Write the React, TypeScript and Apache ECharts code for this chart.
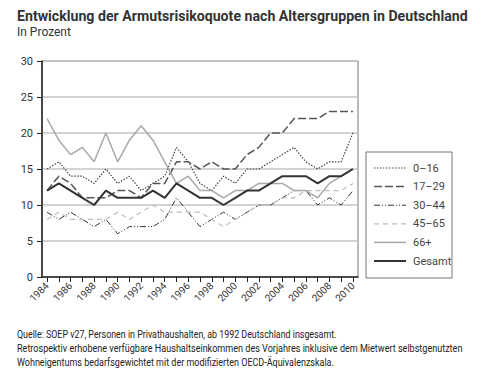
import React, { useEffect, useRef } from "react";
import * as echarts from "echarts";

const years = [1984, 1985, 1986, 1987, 1988, 1989, 1990, 1991, 1992, 1993, 1994, 1995, 1996, 1997, 1998, 1999, 2000, 2001, 2002, 2003, 2004, 2005, 2006, 2007, 2008, 2009, 2010];
const yearLabels = [1984, 1986, 1988, 1990, 1992, 1994, 1996, 1998, 2000, 2002, 2004, 2006, 2008, 2010];

const v0_16 = [15, 16, 14, 14, 13, 15, 13, 14, 12, 13, 14, 18, 16, 13, 12, 14, 13, 15, 15, 16, 17, 18, 16, 15, 16, 16, 20];
const v17_29 = [12, 14, 13, 11, 11, 11, 12, 12, 11, 13, 13, 16, 16, 15, 16, 15, 15, 17, 18, 20, 20, 22, 22, 22, 23, 23, 23];
const v30_44 = [9, 8, 9, 8, 7, 8, 6, 7, 7, 7, 8, 11, 9, 7, 8, 9, 8, 9, 10, 10, 11, 12, 12, 10, 11, 10, 12];
const v45_65 = [8, 9, 8, 8, 8, 8, 9, 8, 9, 10, 9, 9, 9, 9, 8, 7, 8, 9, 10, 10, 11, 11, 12, 12, 12, 12, 13];
const v66 = [22, 19, 17, 18, 16, 20, 16, 19, 21, 19, 16, 13, 14, 12, 12, 11, 12, 12, 13, 13, 13, 12, 12, 11, 13, 14, 15];
const vGesamt = [12, 13, 12, 11, 10, 12, 11, 11, 11, 12, 11, 13, 12, 11, 11, 10, 11, 12, 12, 13, 14, 14, 14, 13, 14, 14, 15];

const seriesNames = ["0–16", "17–29", "30–44", "45–65", "66+", "Gesamt"];

const titleText = "Entwicklung der Armutsrisikoquote nach Altersgruppen in Deutschland";
const subtitleText = "In Prozent";
const footerLines = [
  "Quelle: SOEP v27, Personen in Privathaushalten, ab 1992 Deutschland insgesamt.",
  "Retrospektiv erhobene verfügbare Haushaltseinkommen des Vorjahres inklusive dem Mietwert selbstgenutzten",
  "Wohneigentums bedarfsgewichtet mit der modifizierten OECD-Äquivalenzskala.",
];

const FONT = "Roboto, sans-serif";

function measure(text: string, size: number, weight: string): number {
  const c = document.createElement("canvas").getContext("2d");
  if (!c) return 1;
  c.font = `${weight} ${size}px Roboto`;
  return c.measureText(text).width || 1;
}

export default function App() {
  const ref = useRef<HTMLDivElement>(null);
  useEffect(() => {
    if (!ref.current) return;
    const chart = echarts.init(ref.current, null, { renderer: "svg" });
    const pair = (arr: number[]) => years.map((y, i) => [y, arr[i]]);
    const styles = [
      { color: "#444", width: 1.2, type: [1.5, 1.5] },
      { color: "#555", width: 1.5, type: [8, 3] },
      { color: "#333", width: 1, type: [6, 2, 1, 2, 1, 2] },
      { color: "#bdbdbd", width: 1.2, type: [5, 4] },
      { color: "#a8a8a8", width: 1.5, type: "solid" },
      { color: "#333", width: 2, type: "solid" },
    ];
    const datasets = [v0_16, v17_29, v30_44, v45_65, v66, vGesamt];

    const scaledText = (text: string, x: number, y: number, size: number, weight: string, target: number, fill: string) => ({
      type: "text",
      x,
      y,
      scaleX: Math.min(1, target / measure(text, size, weight)),
      style: { text, x: 0, y: 0, fontSize: size, fontWeight: weight, fill, fontFamily: FONT, verticalAlign: "middle", align: "left" },
      silent: true,
    });

    const footerTargets = [320, 446, 317];

    chart.setOption({
      animation: false,
      textStyle: { fontFamily: FONT },
      grid: {
        left: 42, top: 61, right: 142, bottom: 95,
        show: true, borderColor: "#777", borderWidth: 1,
      },
      xAxis: {
        type: "value",
        min: 1983.57,
        max: 2010.43,
        axisLine: { show: true, lineStyle: { color: "#222", width: 1.5 } },
        axisTick: { show: true, length: 5, customValues: years, lineStyle: { color: "#222" } },
        axisLabel: {
          customValues: yearLabels,
          rotate: 45,
          margin: 7,
          fontSize: 10,
          color: "#333",
          fontFamily: FONT,
          formatter: (v: number) => String(v),
        },
        splitLine: { show: false },
      },
      yAxis: {
        type: "value",
        min: 0,
        max: 30,
        interval: 5,
        axisLine: { show: true, lineStyle: { color: "#222", width: 1.5 } },
        axisTick: { show: true, length: 5, lineStyle: { color: "#222" } },
        axisLabel: { margin: 9, fontSize: 11, color: "#333", fontFamily: FONT },
        splitLine: { show: true, lineStyle: { color: "#c4c4c4", width: 1.5 } },
      },
      series: seriesNames.map((name, i) => ({
        name,
        type: "line",
        data: pair(datasets[i]),
        symbol: "none",
        showSymbol: false,
        lineStyle: styles[i],
        itemStyle: { color: styles[i].color },
        z: i === 5 ? 5 : 3,
      })),
      graphic: [
        scaledText(titleText, 17, 16, 15, "bold", 451, "#333"),
        scaledText(subtitleText, 17, 32, 12, "normal", 56, "#333"),
        { type: "rect", shape: { x: 366, y: 152, width: 86, height: 126 }, style: { fill: "none", stroke: "#777", lineWidth: 1 }, silent: true },
        ...seriesNames.flatMap((name, i) => {
          const cy = 168 + i * 18.6;
          return [
            {
              type: "line",
              shape: { x1: 374, y1: cy, x2: 406, y2: cy },
              style: { stroke: styles[i].color, lineWidth: styles[i].width, lineDash: styles[i].type === "solid" ? null : styles[i].type },
              silent: true,
            },
            {
              type: "text",
              x: 413,
              y: cy,
              style: { text: name, x: 0, y: 0, fontSize: 11, fill: "#444", fontFamily: FONT, verticalAlign: "middle", align: "left" },
              silent: true,
            },
          ];
        }),
        ...footerLines.map((t, i) => scaledText(t, 17, 334 + i * 14, 10, "normal", footerTargets[i], "#222")),
      ],
    });
    return () => chart.dispose();
  }, []);
  return <div ref={ref} style={{ width: 500, height: 372, position: "absolute", left: 0, top: 0 }} />;
}
